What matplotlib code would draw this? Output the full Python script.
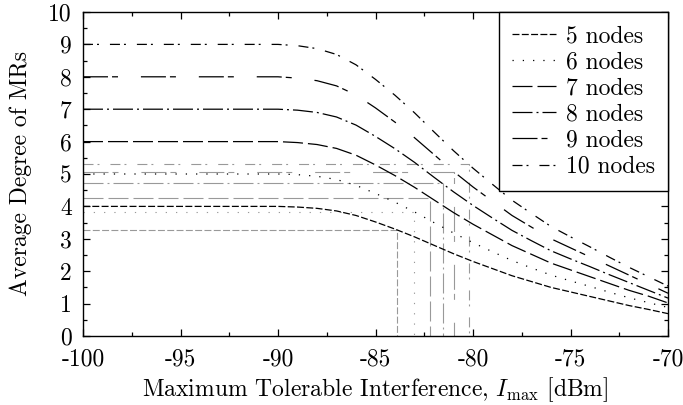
import matplotlib
matplotlib.use("Agg")
import matplotlib.pyplot as plt
from matplotlib.ticker import MultipleLocator

plt.rcParams["font.family"] = ["cmr10", "DejaVu Serif"]
plt.rcParams["mathtext.fontset"] = "cm"
plt.rcParams["axes.unicode_minus"] = False
plt.rcParams["axes.formatter.use_mathtext"] = False
plt.rcParams["lines.scale_dashes"] = False

FS = 17

# Interference threshold axis [dBm]
imax = [-100, -90, -89, -88, -87, -86, -85, -84, -83, -82, -81, -80,
        -79, -78, -77, -76, -75, -74, -73, -72, -71, -70]

# Average degree of mesh routers per network size
deg_5 = [4.00, 4.00, 3.98, 3.94, 3.86, 3.72, 3.52, 3.30, 3.06, 2.80, 2.54, 2.30,
         2.08, 1.86, 1.68, 1.50, 1.36, 1.22, 1.08, 0.94, 0.82, 0.69]
deg_6 = [5.00, 5.00, 4.98, 4.93, 4.83, 4.65, 4.40, 4.13, 3.83, 3.50, 3.18, 2.88,
         2.60, 2.33, 2.10, 1.88, 1.70, 1.53, 1.35, 1.18, 1.03, 0.88]
deg_7 = [6.00, 6.00, 5.97, 5.91, 5.79, 5.58, 5.28, 4.95, 4.59, 4.20, 3.81, 3.45,
         3.12, 2.79, 2.52, 2.25, 2.04, 1.83, 1.62, 1.41, 1.23, 1.02]
deg_8 = [7.00, 7.00, 6.97, 6.90, 6.76, 6.51, 6.16, 5.78, 5.36, 4.90, 4.45, 4.03,
         3.64, 3.26, 2.94, 2.63, 2.38, 2.14, 1.89, 1.65, 1.41, 1.17]
deg_9 = [8.00, 8.00, 7.96, 7.88, 7.72, 7.44, 7.04, 6.60, 6.12, 5.60, 5.08, 4.60,
         4.16, 3.72, 3.36, 3.00, 2.72, 2.44, 2.16, 1.88, 1.60, 1.32]
deg_10 = [9.00, 9.00, 8.96, 8.87, 8.69, 8.37, 7.92, 7.43, 6.89, 6.30, 5.72, 5.18,
          4.68, 4.19, 3.78, 3.38, 3.06, 2.75, 2.43, 2.12, 1.83, 1.54]

labels = ["5 nodes", "6 nodes", "7 nodes", "8 nodes", "9 nodes", "10 nodes"]
series = [deg_5, deg_6, deg_7, deg_8, deg_9, deg_10]

# Operating points marked by gray guide lines
mark_x = [-83.9, -83.03, -82.2, -81.55, -80.97, -80.2]
mark_y = [3.27, 3.82, 4.25, 4.71, 5.07, 5.31]

dashes = [
    (0, (5.0, 1.7)),
    (0, (0.9, 6.5)),
    (0, (14.4, 3.6)),
    (0, (14.4, 2.9, 1.4, 2.9)),
    (0, (18.0, 2.9, 4.3, 16.5)),
    (0, (7.2, 2.9, 1.4, 7.9)),
]

fig = plt.figure(figsize=(6.83, 4.05), dpi=100)
ax = fig.add_axes([83 / 683, 69 / 405, 585 / 683, 324 / 405])

for mx, my, ls in zip(mark_x, mark_y, dashes):
    ax.plot([-100, mx, mx], [my, my, 0], color="#999999", lw=0.8,
            linestyle=ls, zorder=1)

for vals, lab, ls in zip(series, labels, dashes):
    ax.plot(imax, vals, color="black", lw=0.9, linestyle=ls, label=lab, zorder=2)

ax.set_xlim(-100, -70)
ax.set_ylim(0, 10)
ax.xaxis.set_major_locator(MultipleLocator(5))
ax.xaxis.set_minor_locator(MultipleLocator(2.5))
ax.yaxis.set_major_locator(MultipleLocator(1))
ax.yaxis.set_minor_locator(MultipleLocator(0.5))
ax.tick_params(which="both", direction="in", top=True, right=True,
               labelsize=FS, width=0.9)
ax.tick_params(which="major", length=4.8)
ax.tick_params(which="minor", length=2.9)
ax.tick_params(axis="x", which="major", pad=9)
ax.tick_params(axis="y", which="major", pad=8)
for sp in ax.spines.values():
    sp.set_linewidth(1.0)

ax.set_xlabel(r"Maximum Tolerable Interference, $I_{\max}$ [dBm]", fontsize=FS,
              labelpad=3)
ax.set_ylabel("Average Degree of MRs", fontsize=FS, labelpad=12)

leg = ax.legend(loc="upper right", borderaxespad=0, fontsize=FS,
                frameon=True, fancybox=False, edgecolor="black",
                handlelength=1.85, handletextpad=0.42, labelspacing=0.17,
                borderpad=0.55)
leg.get_frame().set_linewidth(1.0)
leg.get_frame().set_alpha(1.0)

fig.savefig("out.png", dpi=100)
